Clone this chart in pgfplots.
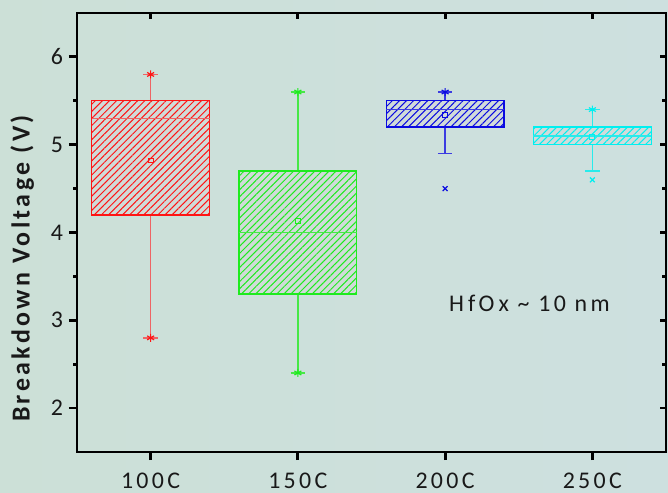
\documentclass[border=0pt]{standalone}
\usepackage{fontspec}
\setmainfont{Carlito}
\newfontfamily\tickfont[LetterSpace=14]{Carlito}
\newfontfamily\labfont[LetterSpace=13]{Carlito}
\usepackage{pgfplots}
\pgfplotsset{compat=1.18}
\usepgfplotslibrary{statistics}
\usetikzlibrary{patterns.meta}
\definecolor{bgL}{RGB}{204,224,215}
\definecolor{bgR}{RGB}{205,224,223}
\definecolor{boxfill}{RGB}{212,216,216}
\definecolor{cR}{RGB}{255,20,20}
\definecolor{cRl}{RGB}{238,100,100}
\definecolor{cG}{RGB}{30,235,30}
\definecolor{cGl}{RGB}{70,232,70}
\definecolor{cB}{RGB}{10,10,225}
\definecolor{cBl}{RGB}{60,60,225}
\definecolor{cC}{RGB}{0,240,240}
\definecolor{cCl}{RGB}{40,235,235}
\definecolor{tickc}{RGB}{25,25,25}
\begin{document}
\begin{tikzpicture}
\useasboundingbox (0,0) rectangle (334bp,246.5bp);
\shade[left color=bgL, right color=bgR] (0,0) rectangle (334bp,246.5bp);
\pgfplotsset{
  mybox/.style n args={2}{
    boxplot/draw direction=y,
    boxplot/every box/.style={draw=#1, line width=0.7bp,
      preaction={fill=boxfill, fill opacity=0.6},
      pattern={Lines[angle=45,distance=2.5bp,line width=0.5bp]}, pattern color=#1},
    boxplot/every whisker/.style={draw=#2, line width=0.75bp},
    boxplot/every median/.style={draw=#2, line width=0.8bp},
  }
}
\begin{axis}[
  at={(38.5bp,20.5bp)}, anchor=south west, scale only axis,
  width=294.5bp, height=219.5bp,
  xmin=0.5, xmax=4.5, ymin=1.5, ymax=6.5,
  xtick={1,2,3,4}, xticklabels={100C,150C,200C,250C},
  ytick={2,3,4,5,6}, minor ytick={2.5,3.5,4.5,5.5},
  xtick pos=left, ytick pos=left, tick align=outside,
  major tick length=4bp, minor tick length=2bp,
  every tick/.style={black, line width=1.4bp},
  axis line style={line width=1.4bp, black},
  /pgf/number format/assume math mode=true,
  ticklabel style={font=\tickfont\fontsize{12}{14}\selectfont, text=tickc},
  xticklabel style={yshift=-3bp},
  yticklabel style={xshift=0.5bp},
  ylabel={Breakdown Voltage (V)},
  ylabel style={font=\labfont\bfseries\fontsize{13}{15}\selectfont, text=tickc,
    at={(axis description cs:-0.093,0.418)}, anchor=center},
]
\addplot[mybox={cR}{cRl}, boxplot prepared={draw position=1,
  lower whisker=2.8, lower quartile=4.2, median=5.3, upper quartile=5.5, upper whisker=5.8,
  box extend=0.8, whisker extend=0.1}] coordinates {};
\addplot[mybox={cG}{cGl}, boxplot prepared={draw position=2,
  lower whisker=2.4, lower quartile=3.3, median=4.0, upper quartile=4.7, upper whisker=5.6,
  box extend=0.8, whisker extend=0.1}] coordinates {};
\addplot[mybox={cB}{cBl}, boxplot prepared={draw position=3,
  lower whisker=4.9, lower quartile=5.2, median=5.4, upper quartile=5.5, upper whisker=5.6,
  box extend=0.8, whisker extend=0.1}] coordinates {};
\addplot[mybox={cC}{cCl}, boxplot prepared={draw position=4,
  lower whisker=4.7, lower quartile=5.0, median=5.1, upper quartile=5.2, upper whisker=5.4,
  box extend=0.8, whisker extend=0.1}] coordinates {};
% means
\addplot[only marks, mark=square, mark size=1.2bp, cR, line width=0.5bp] coordinates {(1,4.82)};
\addplot[only marks, mark=square, mark size=1.2bp, cG, line width=0.5bp] coordinates {(2,4.13)};
\addplot[only marks, mark=square, mark size=1.2bp, cB, line width=0.5bp] coordinates {(3,5.34)};
\addplot[only marks, mark=square, mark size=1.2bp, cC, line width=0.5bp] coordinates {(4,5.09)};
% max / min
\addplot[only marks, mark=asterisk, mark size=2bp, cR, line width=0.6bp] coordinates {(1,5.8) (1,2.8)};
\addplot[only marks, mark=asterisk, mark size=2bp, cG, line width=0.6bp] coordinates {(2,5.6) (2,2.4)};
\addplot[only marks, mark=asterisk, mark size=2bp, cB, line width=0.6bp] coordinates {(3,5.6)};
\addplot[only marks, mark=asterisk, mark size=2bp, cC, line width=0.6bp] coordinates {(4,5.4)};
% outliers
\addplot[only marks, mark=x, mark size=1.7bp, cB, line width=0.6bp] coordinates {(3,4.5)};
\addplot[only marks, mark=x, mark size=1.7bp, cC, line width=0.6bp] coordinates {(4,4.6)};
\node[anchor=west, font=\tickfont\fontsize{12}{14}\selectfont, text=tickc] at (axis cs:2.98,3.19)
  {H\,fO\,x \textasciitilde\ 10 nm};
\end{axis}
\begin{axis}[
  at={(38.5bp,20.5bp)}, anchor=south west, scale only axis,
  width=294.5bp, height=219.5bp,
  xmin=0.5, xmax=4.5, ymin=1.5, ymax=6.5,
  xtick={1,2,3,4}, ytick={2,3,4,5,6}, minor ytick={2.5,3.5,4.5,5.5},
  xticklabels={}, yticklabels={},
  xtick pos=right, ytick pos=right, tick align=inside,
  major tick length=3bp, minor tick length=2bp,
  every tick/.style={black, line width=1.4bp},
  axis line style={line width=1.4bp, black},
]
\end{axis}
\end{tikzpicture}
\end{document}
